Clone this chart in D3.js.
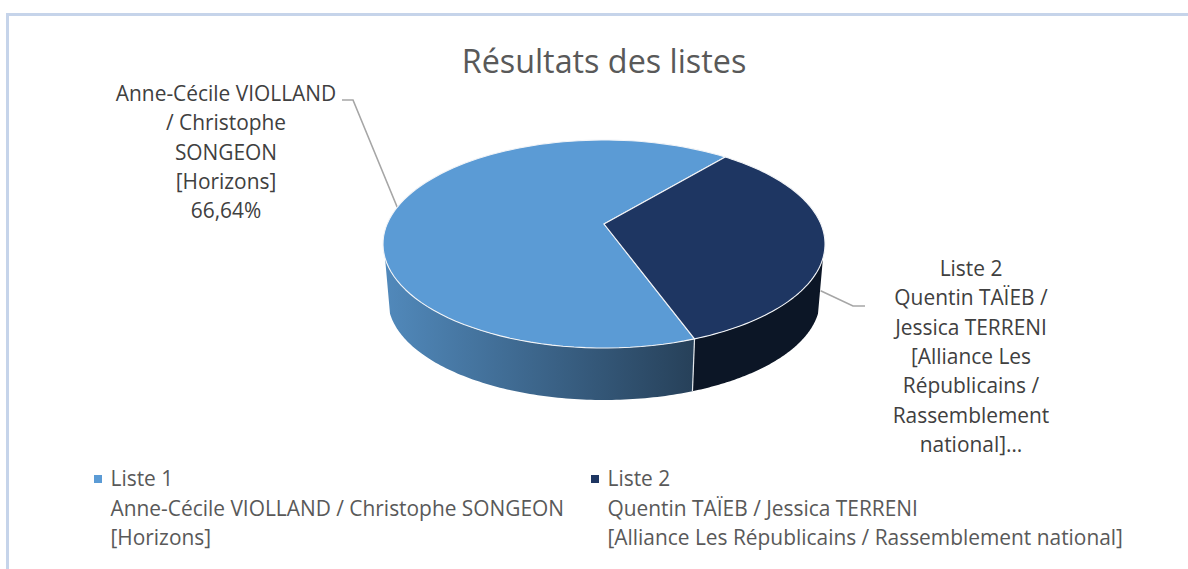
<!DOCTYPE html>
<html>
<head>
<meta charset="utf-8">
<script src="https://cdn.jsdelivr.net/npm/d3@7"></script>
<style>
  html, body { margin: 0; padding: 0; background: #fff; }
  svg { display: block; font-family: "Open Sans", Lato, sans-serif; font-variant-ligatures: none; }
</style>
</head>
<body>
<svg id="chart"></svg>
<script>
// Data
const categories = ['Liste 1', 'Liste 2'];
const values = [66.64, 33.36];
const legendLines = [
  ['Liste 1', 'Anne-Cécile VIOLLAND / Christophe SONGEON', '[Horizons]'],
  ['Liste 2', 'Quentin TAÏEB / Jessica TERRENI', '[Alliance Les Républicains / Rassemblement national]']
];
const labelLines = [
  ['Anne-Cécile VIOLLAND', '/ Christophe', 'SONGEON', '[Horizons]'],
  ['Liste 2', 'Quentin TAÏEB /', 'Jessica TERRENI', '[Alliance Les', 'Républicains /', 'Rassemblement', 'national]…']
];
const topColors = ['#5B9BD5', '#1E3662'];

const width = 1188;
const height = 569;
const fontSize = 20.9;
const lineGap = 29.3;
const rad = Math.PI / 180;

const svg = d3.select('#chart').attr('width', width).attr('height', height);

// Chart frame, only top and left show in the crop
svg.append('path')
  .attr('d', `M7.5,${height} V14.5 H${width}`)
  .attr('fill', 'none')
  .attr('stroke', '#C6D4EA')
  .attr('stroke-width', 3);

svg.append('text')
  .attr('x', 604).attr('y', 72.5)
  .attr('text-anchor', 'middle')
  .attr('font-size', 32.3)
  .attr('fill', '#595959')
  .text('Résultats des listes');

// Top and bottom rims of the disc
const topRim = { cx: 604, cy: 244, rx: 221, ry: 104 };
const bottomRim = { cx: 604, cy: 300, rx: 216, ry: 100 };
// Perspective shift of the disc centre, as a fraction of ry
const tilt = -0.192;

// Angle on the flat disc -> screen point, the centre lands above the rim centre
function project(angle, rim, shift) {
  const u = Math.sin(angle);
  const v = -Math.cos(angle);
  const d = 1 + shift * v;
  return [
    rim.cx + rim.rx * u * Math.sqrt(1 - shift * shift) / d,
    rim.cy + rim.ry * (v + shift) / d
  ];
}

function arcPoints(a0, a1, rim) {
  return d3.range(0, 101).map(i => project(a0 + (a1 - a0) * i / 100, rim, tilt));
}

const pie = d3.pie().sort(null)
  .startAngle(160 * rad)
  .endAngle(520 * rad);
const slices = pie(values);

const line = d3.line();

// Leader lines go first, the disc covers their ends
const leaderColor = '#A6A6A6';
const startA = project((slices[0].startAngle + slices[0].endAngle) / 2, topRim, tilt);
const midB = (slices[1].startAngle + slices[1].endAngle) / 2;
const topB = project(midB, topRim, tilt);
const botB = project(midB, bottomRim, tilt);
const startB = d3.interpolate(topB, botB)(0.87);
svg.append('path')
  .attr('d', line([[342, 100], [353, 100], startA]))
  .attr('fill', 'none').attr('stroke', leaderColor).attr('stroke-width', 1.6);
svg.append('path')
  .attr('d', line([startB, [853, 306], [865, 306]]))
  .attr('fill', 'none').attr('stroke', leaderColor).attr('stroke-width', 1.6);

// Side wall
const defs = svg.append('defs');
const wallGrad = defs.append('linearGradient')
  .attr('id', 'wall-a')
  .attr('gradientUnits', 'userSpaceOnUse')
  .attr('x1', 385).attr('x2', 692).attr('y1', 0).attr('y2', 0);
wallGrad.append('stop').attr('offset', 0).attr('stop-color', '#5189BB');
wallGrad.append('stop').attr('offset', 1).attr('stop-color', '#27415A');

// Where the rim stops being visible on each side of the disc
const silhouette = 108.6 * rad;
const walls = [
  { a0: slices[0].startAngle, a1: 2 * Math.PI - silhouette, fill: 'url(#wall-a)' },
  { a0: silhouette, a1: slices[1].endAngle - 2 * Math.PI, fill: '#0C1626' }
];
walls.forEach(w => {
  const upper = arcPoints(w.a0, w.a1, topRim);
  const lower = arcPoints(w.a1, w.a0, bottomRim);
  svg.append('path')
    .attr('d', line(upper.concat(lower)) + 'Z')
    .attr('fill', w.fill);
});

// White seam between the two walls
const seamAngle = slices[0].startAngle;
svg.append('path')
  .attr('d', line([project(seamAngle, topRim, tilt), project(seamAngle, bottomRim, tilt)]))
  .attr('stroke', '#E4E8EC').attr('stroke-width', 1.2).attr('fill', 'none');

// Top face
const apex = [topRim.cx, topRim.cy + tilt * topRim.ry];
slices.forEach((s, i) => {
  const pts = arcPoints(s.startAngle, s.endAngle, topRim);
  svg.append('path')
    .attr('d', line([apex].concat(pts)) + 'Z')
    .attr('fill', topColors[i])
    .attr('stroke', '#F2F4F7')
    .attr('stroke-width', 1.1)
    .attr('stroke-linejoin', 'round');
});

// Data labels
const pct = d3.formatLocale({ decimal: ',', thousands: ' ', grouping: [3], currency: ['', ''] }).format('.2f');
const labelA = labelLines[0].concat(`${pct(values[0])}%`);
const labelB = labelLines[1];
const drawLabel = (lines, x, y0) => {
  svg.append('g')
    .selectAll('text')
    .data(lines)
    .join('text')
    .attr('x', x)
    .attr('y', (d, i) => y0 + i * lineGap)
    .attr('text-anchor', 'middle')
    .attr('font-size', fontSize)
    .attr('fill', '#404040')
    .text(d => d);
};
drawLabel(labelA, 226, 101);
drawLabel(labelB, 971, 276);

// Legend
const legendX = d3.scaleOrdinal().domain(categories).range([94, 591]);
categories.forEach((c, i) => {
  const g = svg.append('g').attr('transform', `translate(${legendX(c)},0)`);
  g.append('rect')
    .attr('x', 0).attr('y', 475)
    .attr('width', 8).attr('height', 8)
    .attr('fill', topColors[i]);
  g.selectAll('text')
    .data(legendLines[i])
    .join('text')
    .attr('x', 16.5)
    .attr('y', (d, j) => 486 + j * 29.5)
    .attr('font-size', fontSize)
    .attr('fill', '#595959')
    .text(d => d);
});
</script>
</body>
</html>
